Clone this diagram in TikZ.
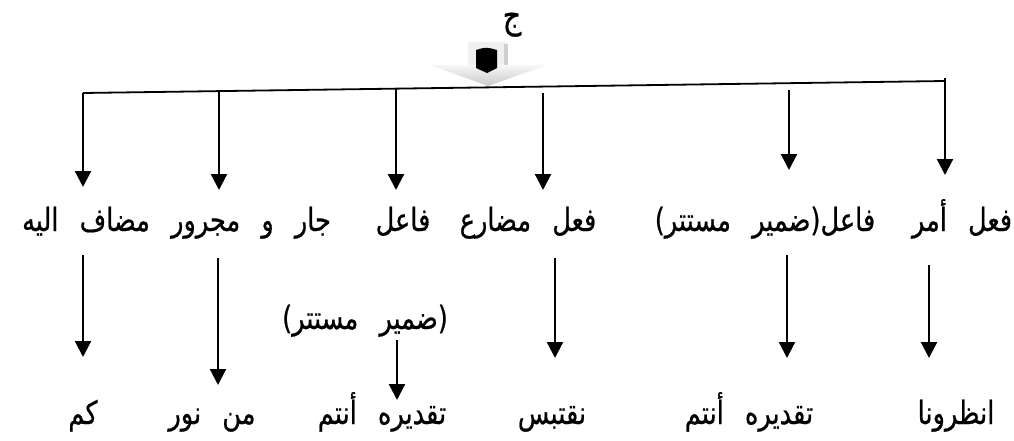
\documentclass[tikz,border=0pt]{standalone}
\usepackage{fontspec}
\newfontfamily\arabicfont[Script=Arabic, FakeStretch=0.8, WordSpace=2.6, FakeBold=0.6]{DejaVu Sans}
\TeXXeTstate=1
\usetikzlibrary{arrows.meta}
\tikzset{
  lbl/.style={font=\arabicfont\fontsize{32}{36}\selectfont, inner sep=0pt, anchor=base},
  link/.style={line width=2.2pt, -{Triangle[length=16pt,width=16pt]}},
  rule/.style={line width=1.8pt},
}
\newcommand\rl[1]{\beginR #1\endR}

\begin{document}
\begin{tikzpicture}[x=1pt,y=-1pt]
\useasboundingbox (0,0) rectangle (1014,441);

% heading letter and the block arrow beneath it
\node[lbl, font=\arabicfont\fontsize{36}{40}\selectfont] (head) at (512,28) {\rl{ج}};
\fill[gray!12] (468,42) rectangle (507,67);
\fill[gray!38] (504,44) rectangle (508,67);
\shade[top color=gray!6, bottom color=gray!42] (430,65) -- (547,65) -- (488,86) -- cycle;
\fill (476,50) .. controls (486,47) .. (497,50) -- (497,68) -- (487,73) -- (476,68) -- cycle;

% the branching rule
\coordinate (L) at (83,93);
\coordinate (R) at (945,81);
\draw[rule] (L) -- (R);

% first level
\node[lbl] (w1) at (86,231)  {\rl{مضاف اليه}};
\node[lbl] (w2) at (251,231) {\rl{جار و مجرور}};
\node[lbl] (w3) at (403,231) {\rl{فاعل}};
\node[lbl] (w4) at (528,231) {\rl{فعل مضارع}};
\node[lbl] (w5) at (765,231) {\rl{فاعل(ضمير مستتر)}};
\node[lbl] (w6) at (962,231) {\rl{فعل أمر}};

% hidden subject under the second verb
\node[lbl] (m3) at (365,329) {\rl{(ضمير مستتر)}};

% words of the verse
\node[lbl] (z1) at (83,424)  {\rl{كم}};
\node[lbl] (z2) at (212,424) {\rl{من نور}};
\node[lbl] (z3) at (382,424) {\rl{تقديره أنتم}};
\node[lbl] (z4) at (552,424) {\rl{نقتبس}};
\node[lbl] (z5) at (749,424) {\rl{تقديره أنتم}};
\node[lbl] (z6) at (956,424) {\rl{انظرونا}};

% arrows from the rule down to the first level
\coordinate (a1) at (83,93);   \coordinate (b1) at (83,187);
\coordinate (a2) at (219,91);  \coordinate (b2) at (219,190);
\coordinate (a3) at (396,88);  \coordinate (b3) at (396,190);
\coordinate (a4) at (543,93);  \coordinate (b4) at (543,190);
\coordinate (a5) at (789,90);  \coordinate (b5) at (789,170);
\coordinate (a6) at (945,78);  \coordinate (b6) at (945,175);
\foreach \i in {1,...,6} \draw[link] (a\i) -- (b\i);

% arrows from the first level down to the words
\coordinate (c1) at (83,255);  \coordinate (d1) at (83,357);
\coordinate (c2) at (218,258); \coordinate (d2) at (218,385);
\coordinate (c3) at (397,340); \coordinate (d3) at (397,400);
\coordinate (c4) at (555,258); \coordinate (d4) at (555,358);
\coordinate (c5) at (787,255); \coordinate (d5) at (787,358);
\coordinate (c6) at (929,265); \coordinate (d6) at (929,358);
\foreach \i in {1,...,6} \draw[link] (c\i) -- (d\i);
\end{tikzpicture}
\end{document}
